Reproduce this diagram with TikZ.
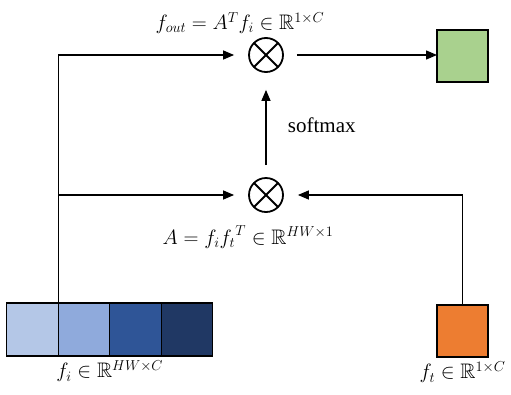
\documentclass[tikz,border=0pt]{standalone}
\usepackage{amsmath,amssymb}
\usepackage{fontspec}
\setmainfont{Liberation Serif}
\usetikzlibrary{positioning,arrows.meta}
\definecolor{blueA}{HTML}{B4C7E7}
\definecolor{blueB}{HTML}{8FAADC}
\definecolor{blueC}{HTML}{2F5597}
\definecolor{blueD}{HTML}{203864}
\definecolor{outgreen}{HTML}{A9D18E}
\definecolor{queryorange}{HTML}{ED7D31}
\begin{document}
\begin{tikzpicture}
    [
        x = 1pt, y = -1pt,
        font = \fontsize{21}{25}\selectfont,
        cell/.style = {
            draw,
            line width = 1.3pt,
            minimum width = 51.5pt,
            minimum height = 53pt,
            inner sep = 0pt,
            outer sep = 0pt
        },
        mul/.style = {
            draw,
            circle,
            line width = 1.8pt,
            minimum size = 34pt,
            inner sep = 0pt,
            path picture = {
                \draw[line width = 1.8pt] (path picture bounding box.south west) -- (path picture bounding box.north east);
                \draw[line width = 1.8pt] (path picture bounding box.north west) -- (path picture bounding box.south east);
            }
        },
        link/.style = {
            -{Triangle[length = 11pt, width = 9pt]},
            line width = 1.3pt
        },
    ]

    \useasboundingbox (0,0) rectangle (511,394);

    % multiplications
    \node[mul] (mul1) at (266,55) {};
    \node[mul] (mul2) at (266,195) {};

    % feature blocks
    \node[cell, fill = blueA] (c1) at (32.5,329.5) {};
    \node[cell, fill = blueB, right = 0pt of c1] (c2) {};
    \node[cell, fill = blueC, right = 0pt of c2] (c3) {};
    \node[cell, fill = blueD, right = 0pt of c3] (c4) {};
    \node[cell, fill = queryorange, minimum width = 51pt, minimum height = 52pt] (ft) at (462.5,331) {};
    \node[cell, fill = outgreen, minimum width = 51pt, minimum height = 52pt] (out) at (462.5,56) {};

    % labels
    \node (foutlabel) [above = 0pt of mul1, xshift = -26pt] {$f_{out} = A^T f_i \in \mathbb{R}^{1\times C}$};
    \node (alabel) [below = 9pt of mul2, xshift = -18pt] {$A = f_i {f_t}^T \in \mathbb{R}^{HW\times 1}$};
    \node (filabel) [below = 1pt of c2.south east] {$f_i \in \mathbb{R}^{HW\times C}$};
    \node (ftlabel) [below = 1pt of ft] {$f_t \in \mathbb{R}^{1\times C}$};

    % connections
    \draw[link, shorten >= 14pt] (c1.north east) |- (mul1);
    \draw[link, shorten >= 14pt] (c1.north east |- mul2) -- (mul2);
    \draw[link, shorten >= 14pt] (ft.north) |- (mul2);
    \draw[link, shorten <= 12pt, shorten >= 17pt] (mul2) -- node[right = 18pt] {softmax} (mul1);
    \draw[link, shorten <= 13pt] (mul1.east) -- (mul1.east -| out.west);
\end{tikzpicture}
\end{document}
